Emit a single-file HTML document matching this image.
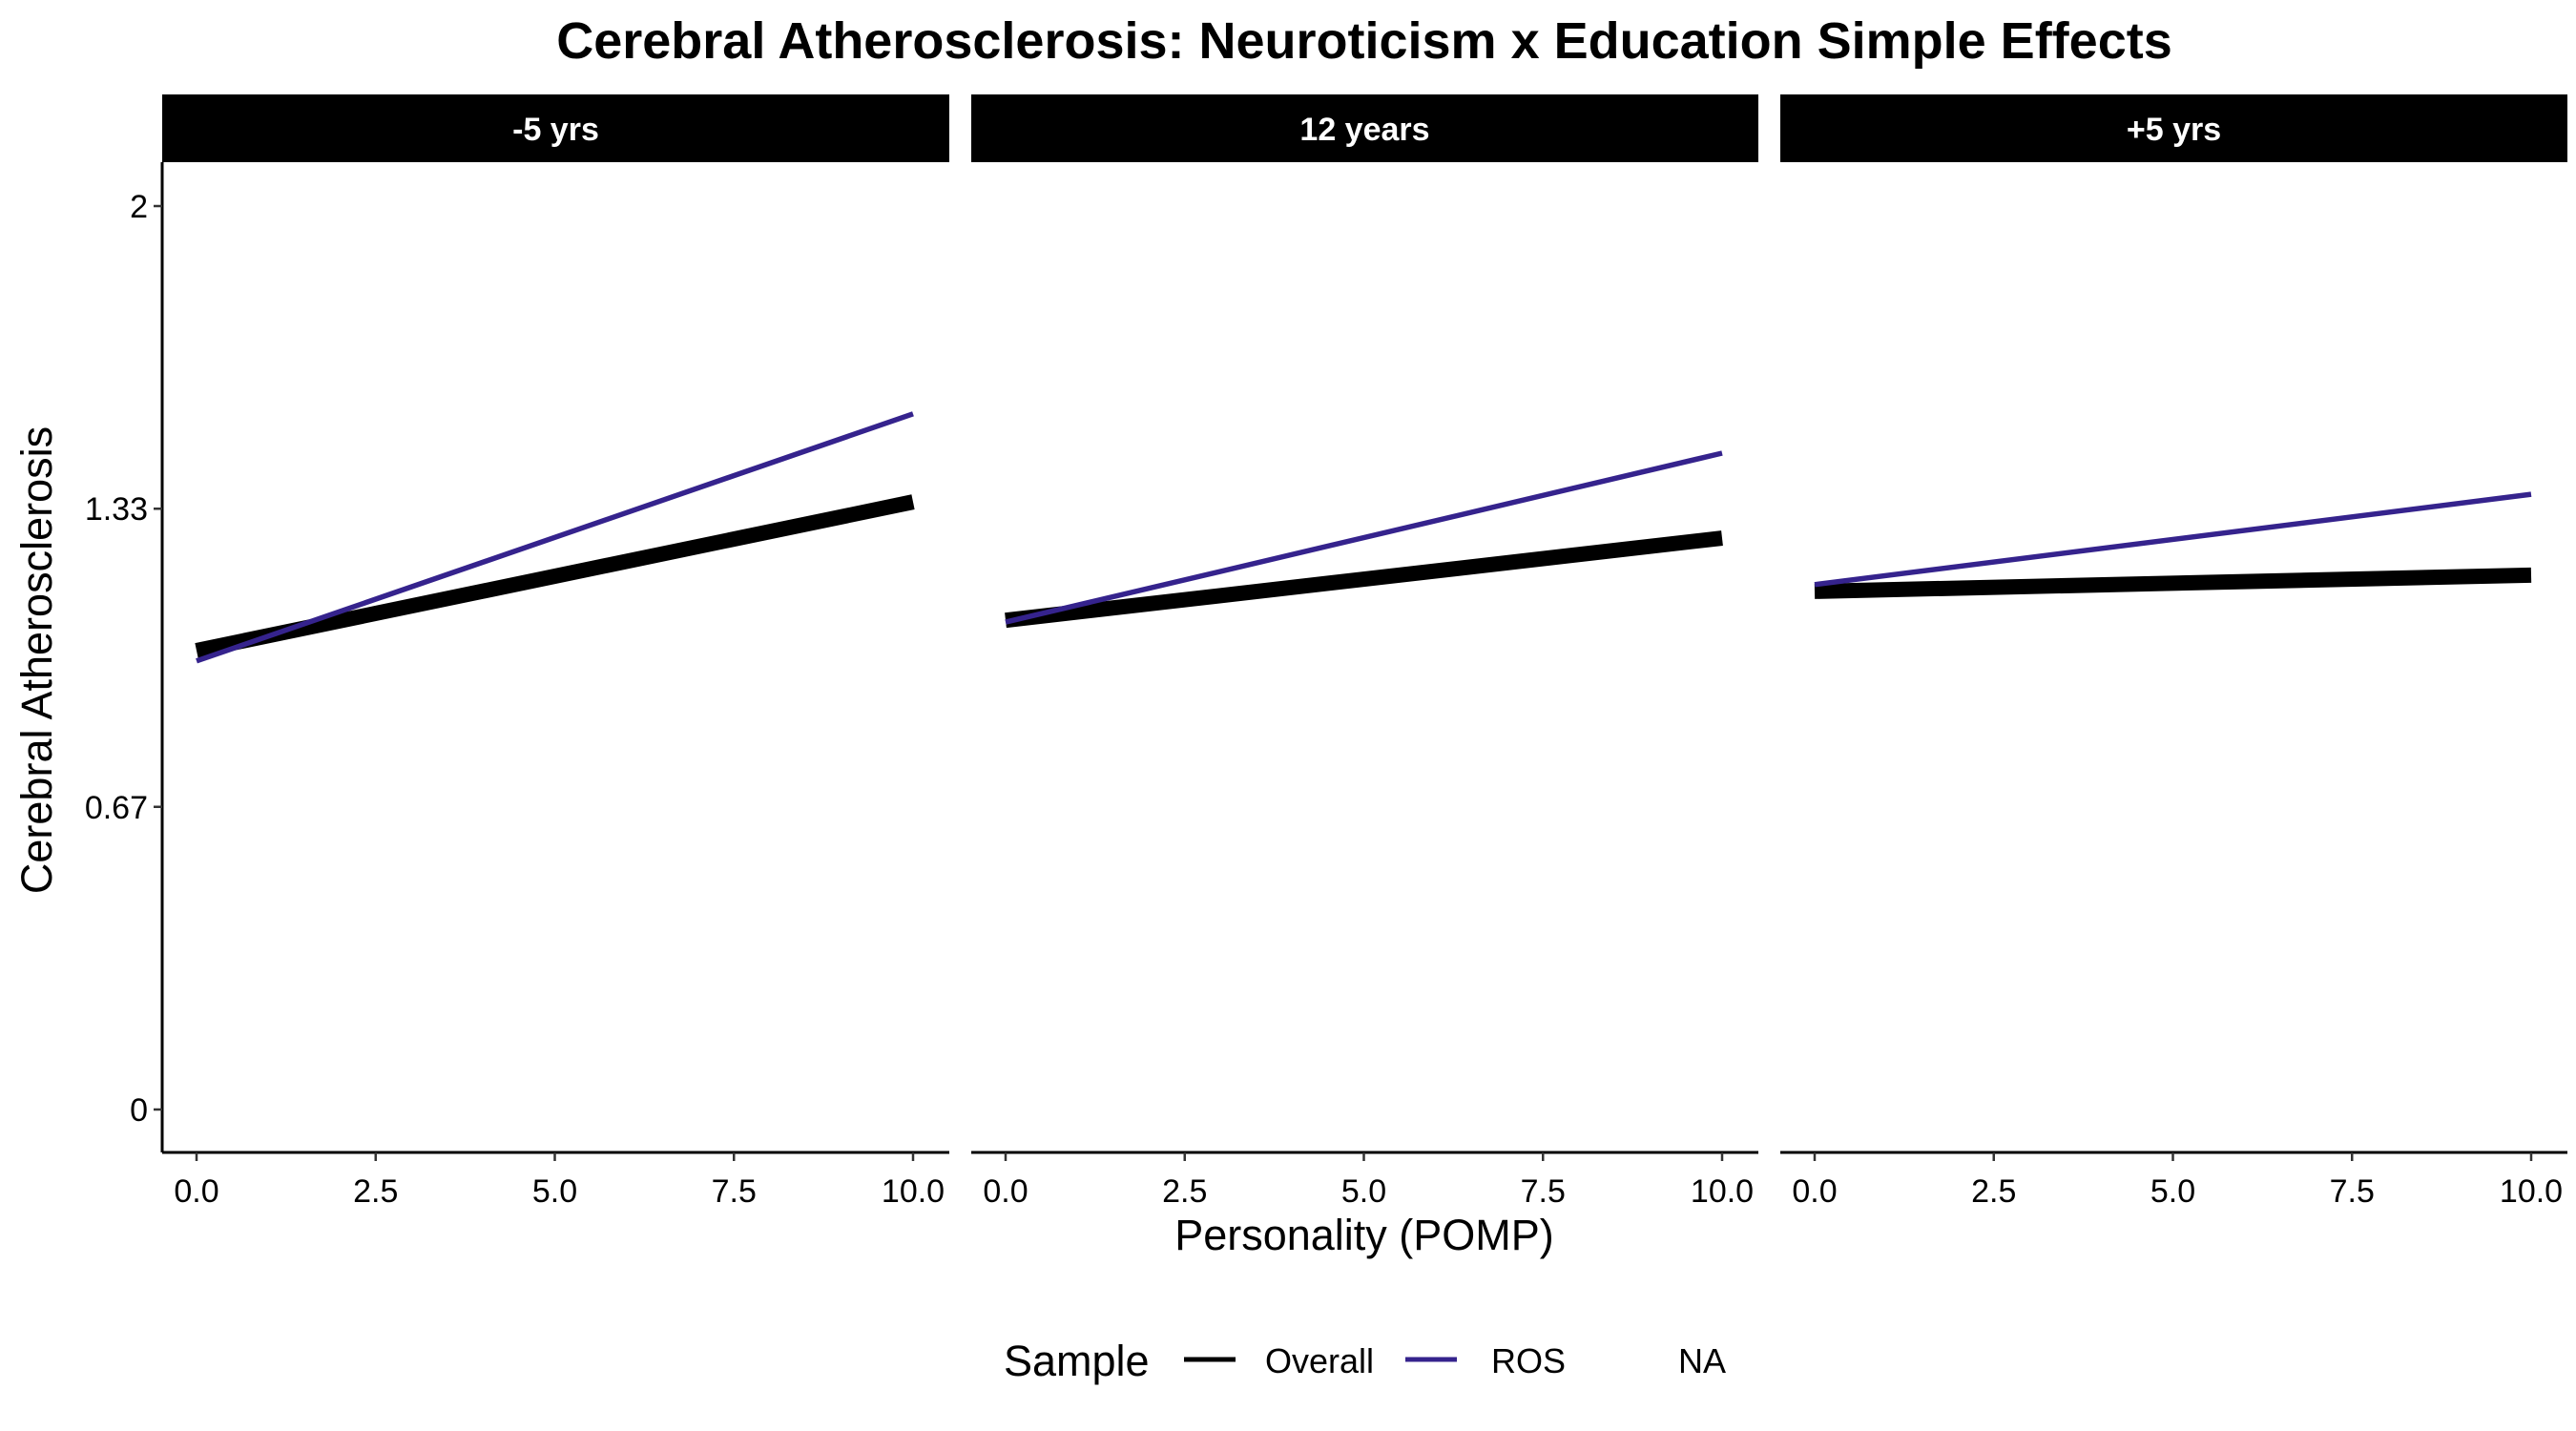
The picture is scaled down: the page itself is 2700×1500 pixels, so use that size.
<!DOCTYPE html>
<html><head><meta charset="utf-8"><style>
html,body{margin:0;padding:0;background:#fff;}
svg{display:block;font-family:"Liberation Sans",Arial,sans-serif;}
</style></head><body>
<svg id="chart" width="2700" height="1500" viewBox="0 0 2700 1500">
<text x="1430" y="61" font-size="54" font-weight="bold" text-anchor="middle">Cerebral Atherosclerosis: Neuroticism x Education Simple Effects</text>
<text transform="translate(54,692) rotate(-90)" font-size="45" text-anchor="middle">Cerebral Atherosclerosis</text>
<text x="1430" y="1310" font-size="45" text-anchor="middle">Personality (POMP)</text>
<g>
<text x="1052" y="1442" font-size="45">Sample</text>
<line x1="1241" y1="1425" x2="1295" y2="1425" stroke="#000" stroke-width="5"/>
<text x="1326" y="1439" font-size="36">Overall</text>
<line x1="1473" y1="1425" x2="1527" y2="1425" stroke="#35238d" stroke-width="5"/>
<text x="1563" y="1439" font-size="36">ROS</text>
<text x="1759" y="1439" font-size="36">NA</text>
</g>
<g id="panels"></g>
</svg>
<script>
const panelLabels = ["-5 yrs", "12 years", "+5 yrs"];
const xStart = [0, 0, 0];
const xEnd = [10, 10, 10];
const overallStart = [1.016, 1.083, 1.147];
const overallEnd = [1.345, 1.265, 1.183];
const rosStart = [0.993, 1.079, 1.162];
const rosEnd = [1.54, 1.453, 1.362];
const yTicks = [0, 0.67, 1.33, 2];
const yTickLabels = ["0", "0.67", "1.33", "2"];
const xTicks = [0, 2.5, 5, 7.5, 10];
const xTickLabels = ["0.0", "2.5", "5.0", "7.5", "10.0"];

const NS = "http://www.w3.org/2000/svg";
const panelGroup = document.getElementById('panels');
const panelLeft = [170, 1018, 1866];
const panelW = 825, plotTop = 170, plotBottom = 1208;
function yScale(v){ return 1163 - (v/2)*(1163-216); }
function xScale(p, v){ return panelLeft[p] + 36 + (v/10)*751; }
function mk(tag, attrs){ const e=document.createElementNS(NS,tag); for(const k in attrs) e.setAttribute(k, attrs[k]); panelGroup.appendChild(e); return e; }

for(let p=0;p<3;p++){
  const L = panelLeft[p];
  const strip = mk('rect',{x:L,y:99,width:panelW,height:71,fill:'#000'});
  
  
  const st = mk('text',{x:L+panelW/2,y:147,'font-size':34,'font-weight':'bold',fill:'#fff','text-anchor':'middle'});
  st.textContent = panelLabels[p];
  
  
  const xa = mk('line',{x1:L,y1:plotBottom,x2:L+panelW,y2:plotBottom,stroke:'#000','stroke-width':3});
  
  
  xTicks.forEach((t,i)=>{
    const x = xScale(p,t);
    const tk = mk('line',{x1:x,y1:plotBottom,x2:x,y2:plotBottom+9,stroke:'#333','stroke-width':2.5});
    
    
    const tl = mk('text',{x:x,y:1260,'font-size':34,'text-anchor':'middle',fill:'#000'});
    tl.textContent = xTickLabels[i];
    
    
  });
  if(p===0){
    const ya = mk('line',{x1:L,y1:plotTop,x2:L,y2:plotBottom,stroke:'#000','stroke-width':3});
    
    
    yTicks.forEach((t,i)=>{
      const y=yScale(t);
      const tk = mk('line',{x1:L-9,y1:y,x2:L,y2:y,stroke:'#333','stroke-width':2.5});
      
      
      const tl = mk('text',{x:L-15,y:y+12,'font-size':34,'text-anchor':'end',fill:'#000'});
      tl.textContent = yTickLabels[i];
      
      
    });
  }
  const ov = mk('line',{x1:xScale(p,xStart[p]),y1:yScale(overallStart[p]),x2:xScale(p,xEnd[p]),y2:yScale(overallEnd[p]),stroke:'#000','stroke-width':16});
  
  
  const ro = mk('line',{x1:xScale(p,xStart[p]),y1:yScale(rosStart[p]),x2:xScale(p,xEnd[p]),y2:yScale(rosEnd[p]),stroke:'#35238d','stroke-width':5.5});
  
  
}
</script>
</body></html>
